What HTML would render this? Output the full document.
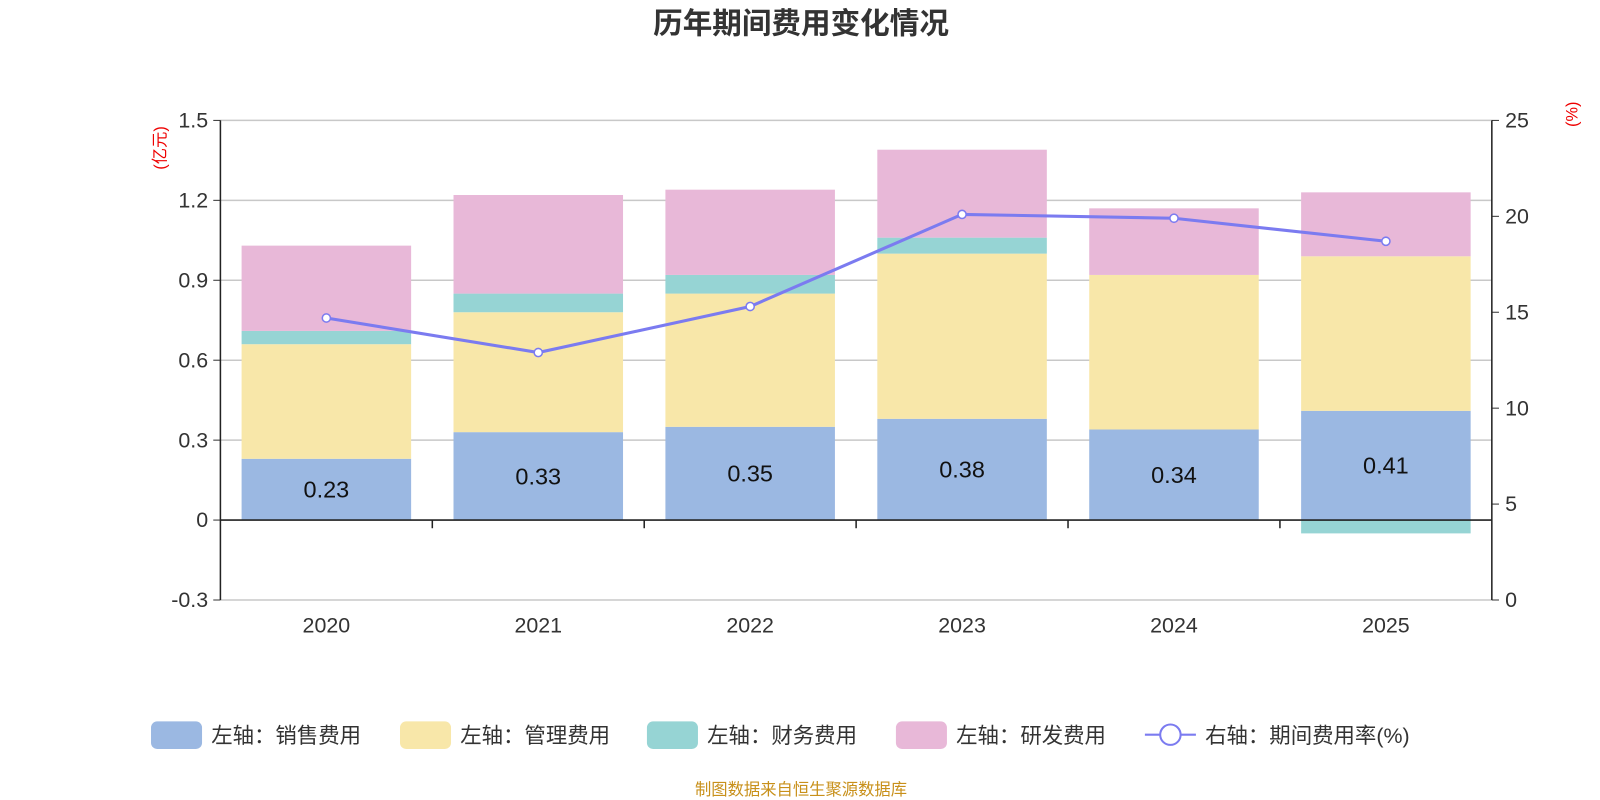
<!DOCTYPE html>
<html><head><meta charset="utf-8"><style>
body{margin:0;background:#fff;}
svg{display:block;font-family:"Liberation Sans","Noto Sans CJK SC",sans-serif;}
</style></head><body>
<svg id="c" width="1600" height="800" viewBox="0 0 1568 784">
<text x="785" y="33" text-anchor="middle" font-size="29" font-weight="bold" fill="#333">历年期间费用变化情况</text>
<text x="162" y="145" font-size="16" fill="#e00" transform="rotate(-90 162 145)" text-anchor="middle">(亿元)</text>
<text x="1546" y="112" font-size="16" fill="#e00" transform="rotate(-90 1546 112)" text-anchor="middle">(%)</text>
<text x="785" y="779" text-anchor="middle" font-size="16" fill="#c8901a">制图数据来自恒生聚源数据库</text>
</svg>
<script>
const categories=['2020','2021','2022','2023','2024','2025'];
const sales=[0.23,0.33,0.35,0.38,0.34,0.41];
const admin=[0.43,0.45,0.50,0.62,0.58,0.58];
const finance=[0.05,0.07,0.07,0.06,0.00,-0.05];
const rnd=[0.32,0.37,0.32,0.33,0.25,0.24];
const rate=[14.7,12.9,15.3,20.1,19.9,18.7];
const leftTicks=[-0.3,0,0.3,0.6,0.9,1.2,1.5];
const leftTickLabels=['-0.3','0','0.3','0.6','0.9','1.2','1.5'];
const rightTicks=[0,5,10,15,20,25];

const svg=document.getElementById('c');
const NS='http://www.w3.org/2000/svg';
const X0=216,X1=1462,Ytop=118,Ybot=588;
const yL=v=>Ybot-(v-(-0.3))/1.8*(Ybot-Ytop);
const yR=v=>Ybot-v/25*(Ybot-Ytop);
const band=(X1-X0)/categories.length;
const xc=i=>X0+band*(i+0.5);
const bw=band*0.8;
function mk(tag,attrs,parent){const e=document.createElementNS(NS,tag);for(const k in attrs)e.setAttribute(k,attrs[k]);(parent||svg).appendChild(e);return e;}

leftTicks.forEach((t,i)=>{
  const g=mk('g',{});
  
  
  if(t!==0)mk('line',{x1:X0,x2:X1,y1:yL(t),y2:yL(t),stroke:'#c8c8c8','stroke-width':1.5},g);
  mk('line',{x1:X0-7,x2:X0,y1:yL(t),y2:yL(t),stroke:'#333'},g);
  const tx=mk('text',{x:X0-12,y:yL(t)+7,'text-anchor':'end','font-size':21,fill:'#333'},g);tx.textContent=leftTickLabels[i];
});
rightTicks.forEach((t,i)=>{
  const g=mk('g',{});
  
  
  mk('line',{x1:X1,x2:X1+7,y1:yR(t),y2:yR(t),stroke:'#333'},g);
  const tx=mk('text',{x:X1+13,y:yR(t)+7,'font-size':21,fill:'#333'},g);tx.textContent=t;
});
const colors=['#9bb8e2','#f8e7a9','#96d4d4','#e8b8d8'];
const series=[sales,admin,finance,rnd];
const snames=['sales','admin','finance','rnd'];
categories.forEach((c,i)=>{
  let pos=0,neg=0;
  series.forEach((s,k)=>{
    const v=s[i];let a,b;
    if(v>=0){a=pos;b=pos+v;pos=b;}else{a=neg;b=neg+v;neg=b;}
    const r=mk('rect',{x:xc(i)-bw/2,y:Math.min(yL(a),yL(b)),width:bw,height:Math.abs(yL(a)-yL(b)),fill:colors[k]});
    
    
  });
  const lb=mk('text',{x:xc(i),y:(yL(0)+yL(sales[i]))/2+8,'text-anchor':'middle','font-size':23,fill:'#111'});
  
  
  lb.textContent=sales[i].toFixed(2);
  const xl=mk('text',{x:xc(i),y:620,'text-anchor':'middle','font-size':21,fill:'#333'});
  
  
  xl.textContent=c;
});
const ax=mk('g',{stroke:'#222','stroke-width':1.5});


mk('line',{x1:X0,x2:X0,y1:Ytop,y2:Ybot},ax);
mk('line',{x1:X1,x2:X1,y1:Ytop,y2:Ybot},ax);
mk('line',{x1:X0,x2:X1,y1:yL(0),y2:yL(0)},ax);
for(let i=1;i<categories.length;i++)mk('line',{x1:X0+band*i,x2:X0+band*i,y1:yL(0),y2:yL(0)+8},ax);
const pts=rate.map((v,i)=>xc(i)+','+yR(v)).join(' ');
const pl=mk('polyline',{points:pts,fill:'none',stroke:'#7b7bf0','stroke-width':3});


rate.forEach((v,i)=>{
  const p=mk('circle',{cx:xc(i),cy:yR(v),r:4,fill:'#fff',stroke:'#7b7bf0','stroke-width':1.5});
  
  
});
const legendX=[148,392,634,878];
const legendT=['左轴：销售费用','左轴：管理费用','左轴：财务费用','左轴：研发费用'];
legendT.forEach((t,k)=>{
  const g=mk('g',{});
  
  
  mk('rect',{x:legendX[k],y:707,width:50,height:27,rx:6,fill:colors[k]},g);
  const tx=mk('text',{x:legendX[k]+59,y:728,'font-size':21,fill:'#333'},g);tx.textContent=t;
});
const lg=mk('g',{});


mk('line',{x1:1122,x2:1172,y1:720,y2:720,stroke:'#7b7bf0','stroke-width':2},lg);
mk('circle',{cx:1147,cy:720,r:10,fill:'#fff',stroke:'#7b7bf0','stroke-width':2},lg);
const lt=mk('text',{x:1181,y:728,'font-size':21,fill:'#333'},lg);lt.textContent='右轴：期间费用率(%)';
</script>
</body></html>
